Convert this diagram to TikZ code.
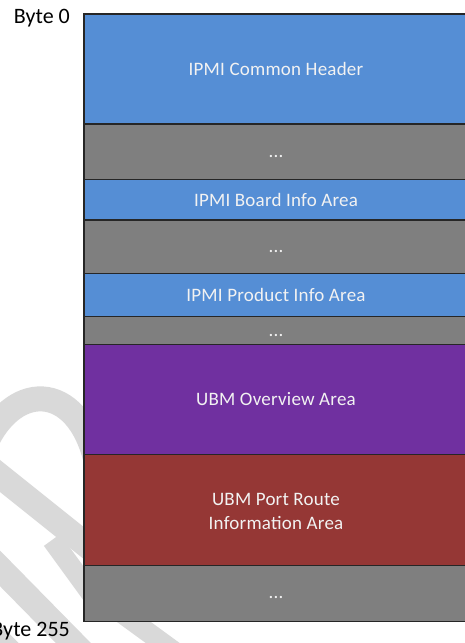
\documentclass[tikz,border=0pt]{standalone}
\usepackage{fontspec}
\setmainfont{Carlito}
\definecolor{ipmiblue}{RGB}{85,142,213}
\definecolor{fillgray}{RGB}{127,127,127}
\definecolor{ubmpurple}{RGB}{112,48,160}
\definecolor{ubmred}{RGB}{149,55,53}
\definecolor{wmark}{RGB}{217,217,217}
\definecolor{labelwhite}{RGB}{242,242,242}
\tikzset{
  region/.style={draw=black!85, line width=1.1pt},
  arealabel/.style={anchor=base, text=labelwhite, inner sep=0pt,
    font=\fontsize{19}{23.5}\selectfont\addfontfeatures{LetterSpace=1.2}},
  bytelabel/.style={anchor=base east, text=black, inner sep=0pt,
    font=\fontsize{22}{26}\selectfont},
  wmstroke/.style={draw=wmark, line width=25pt}
}
\begin{document}
\begin{tikzpicture}[x=1pt,y=-1pt]
\useasboundingbox (0,0) rectangle (465,643);
\clip (0,0) rectangle (465,643);

% faint watermark strokes behind the memory map
\draw[wmstroke] (-15,445) .. controls (15,378) and (82,382) .. (98,470);
\draw[wmstroke] (-30,452) -- (100,556);
\draw[wmstroke] (-22,546) -- (92,662);
\draw[wmstroke] (-30,612) -- (30,672);
\draw[wmstroke, line width=20pt] (52,540) -- (100,606);
\draw[wmstroke, line width=20pt] (112,606) -- (186,660);

% stacked FRU areas, byte 0 at the top
\def\L{84}\def\R{470}
\path[region, fill=ipmiblue]  (\L,14)    rectangle (\R,124);
\path[region, fill=fillgray]  (\L,124)   rectangle (\R,179.3);
\path[region, fill=ipmiblue]  (\L,179.3) rectangle (\R,220);
\path[region, fill=fillgray]  (\L,220)   rectangle (\R,273.3);
\path[region, fill=ipmiblue]  (\L,273.3) rectangle (\R,316.7);
\path[region, fill=fillgray]  (\L,316.7) rectangle (\R,344.3);
\path[region, fill=ubmpurple] (\L,344.3) rectangle (\R,454.3);
\path[region, fill=ubmred]    (\L,454.3) rectangle (\R,565.3);
\path[region, fill=fillgray]  (\L,565.3) rectangle (\R,621.7);

% area names
\def\C{276}
\node[arealabel] (hdr)    at (\C,75)    {IPMI Common Header};
\node[arealabel] (gap1)   at (\C,157.7) {...};
\node[arealabel] (board)  at (\C,206)   {IPMI Board Info Area};
\node[arealabel] (gap2)   at (\C,252.7) {...};
\node[arealabel] (prod)   at (\C,301.5) {IPMI Product Info Area};
\node[arealabel] (gap3)   at (\C,336.7) {...};
\node[arealabel] (ovw)    at (\C,405.3) {UBM Overview Area};
\node[arealabel] (route)  at (\C,505.7) {UBM Port Route};
\node[arealabel] (routeb) at (\C,529.3) {Information Area};
\node[arealabel] (gap4)   at (\C,598.5) {...};

% byte offsets
\node[bytelabel] (b0)   at (70,23)  {Byte 0};
\node[bytelabel] (b255) at (70,636) {Byte 255};
\end{tikzpicture}
\end{document}
